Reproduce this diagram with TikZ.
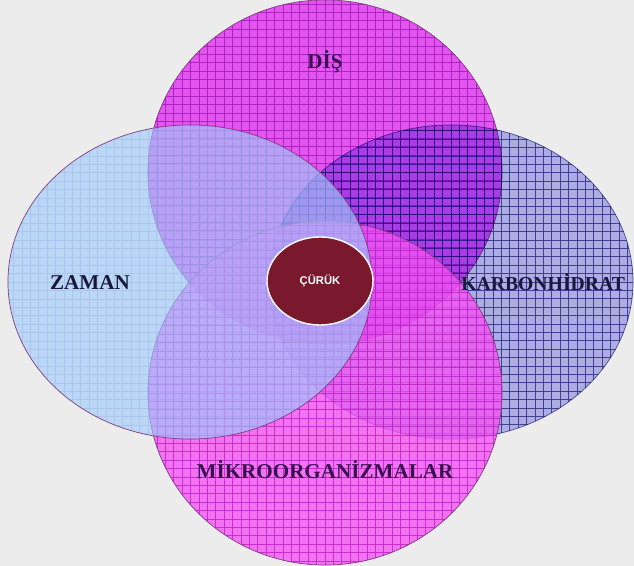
\documentclass[tikz,border=0pt]{standalone}
\usepackage{fontspec}
\setmainfont{Liberation Serif}
\newfontfamily\smallsans{Liberation Sans}
\usetikzlibrary{shapes.geometric}
\definecolor{bggray}{RGB}{236,236,236}
\definecolor{disfill}{RGB}{228,84,238}
\definecolor{disline}{RGB}{170,36,196}
\definecolor{karfill}{RGB}{188,188,246}
\definecolor{karline}{RGB}{96,96,166}
\definecolor{mikfill}{RGB}{244,84,244}
\definecolor{mikline}{RGB}{190,30,200}
\definecolor{zamfill}{RGB}{157,205,252}
\definecolor{zamline}{RGB}{150,160,230}
\definecolor{setedge}{RGB}{130,60,130}
\definecolor{curukfill}{RGB}{122,24,46}
\definecolor{navytext}{RGB}{24,24,60}
\definecolor{plumtext}{RGB}{58,16,80}

\begin{document}
\begin{tikzpicture}[x=0.025cm,y=0.025cm,
  set/.style={ellipse,inner sep=0pt,draw=setedge,line width=0.5pt},
  setgrid/.style={path picture={\draw[#1] (path picture bounding box.south west) grid[step=0.21cm] (path picture bounding box.north east);}},
  disgrid/.style={draw=disline,line width=0.5pt},
  kargrid/.style={draw=karline,line width=0.5pt},
  mikgrid/.style={draw=mikline,line width=0.5pt,draw opacity=0.8},
  zamgrid/.style={draw=zamline,line width=0.4pt,draw opacity=0.35},
  setlabel/.style={font=\bfseries\fontsize{15}{15}\selectfont,text=#1}]
\fill[bggray] (0,0) rectangle (634,566);
\useasboundingbox (0,0) rectangle (634,566);

% the four sets
\node[set,fill=disfill,setgrid=disgrid,minimum width=8.85cm,minimum height=8.6cm] (dis) at (325,394) {};
\begin{scope}[blend mode=multiply]
\node[set,fill=karfill,setgrid=kargrid,draw=karline,minimum width=9.1cm,minimum height=7.85cm] (karbon) at (451,284) {};
\end{scope}
\node[set,fill=mikfill,fill opacity=0.8,setgrid=mikgrid,minimum width=8.85cm,minimum height=8.6cm] (mikro) at (325,173) {};
\node[set,fill=zamfill,fill opacity=0.63,setgrid=zamgrid,minimum width=9.1cm,minimum height=7.85cm] (zaman) at (190,284) {};

% centre
\node[ellipse,inner sep=0pt,fill=curukfill,draw=white,line width=1pt,minimum width=2.65cm,minimum height=2.2cm,
  text=white,font=\smallsans\bfseries\fontsize{8}{8}\selectfont] (curuk) at (320,285) {ÇÜRÜK};

% labels
\node[setlabel=plumtext] (dislabel) at (325,504) {DİŞ};
\node[setlabel=navytext] (zamlabel) at (90,283) {ZAMAN};
\node[setlabel=navytext,font=\bfseries\fontsize{14}{14}\selectfont,anchor=west,inner sep=0pt] (karlabel) at (461,284) {KARBONHİDRAT};
\node[setlabel=plumtext] (miklabel) at (325,96) {MİKROORGANİZMALAR};
\end{tikzpicture}
\end{document}
